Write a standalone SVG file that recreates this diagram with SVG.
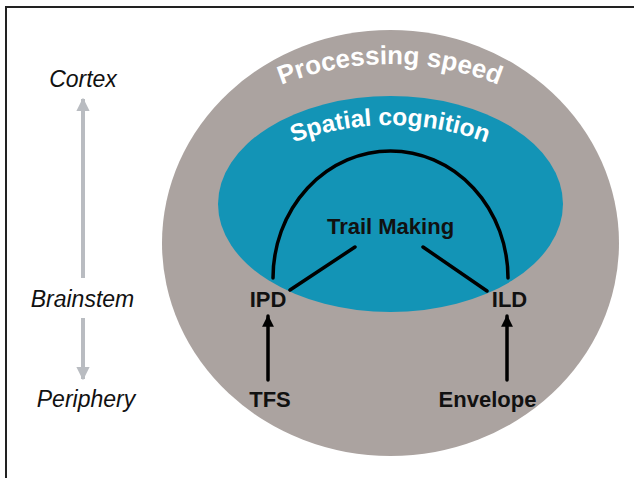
<svg xmlns="http://www.w3.org/2000/svg" width="634" height="478" viewBox="0 0 634 478">
<style>
.lbl{font-family:"Liberation Sans",Arial,sans-serif;font-weight:bold;font-size:22px;fill:#111;text-anchor:middle}
.axis{font-family:"Liberation Sans",Arial,sans-serif;font-style:italic;font-size:23px;fill:#111;text-anchor:middle}
.arc{font-family:"Liberation Sans",Arial,sans-serif;font-weight:bold;fill:#fff;text-anchor:middle}
.blk{stroke:#000;stroke-width:3.5;fill:none;stroke-linecap:round}
.gry{stroke:#b9bcc1;stroke-width:4;fill:none}
</style>
<defs>
<marker id="ah" viewBox="0 0 10 10" refX="9" refY="5" markerWidth="3.4" markerHeight="3.4" orient="auto" markerUnits="strokeWidth">
<path d="M0 0 L10 5 L0 10 Z" fill="#000"/>
</marker>
<marker id="ag" viewBox="0 0 10 10" refX="9" refY="5" markerWidth="3.3" markerHeight="3.3" orient="auto" markerUnits="strokeWidth">
<path d="M0 0 L10 5 L0 10 Z" fill="#b9bcc1"/>
</marker>
<path id="pPS" d="M 97 357 A 293 293 0 0 1 683 357"/>
<path id="pSC" d="M 117 398 A 273 273 0 0 1 663 398"/>
</defs>
<rect width="634" height="478" fill="#fff"/>
<rect x="6" y="7" width="700" height="520" fill="none" stroke="#222" stroke-width="2"/>
<g id="processing-speed">
<ellipse cx="390.5" cy="243" rx="228.5" ry="213" fill="#aba3a0"/>
<text class="arc" font-size="26"><textPath href="#pPS" startOffset="50%">Processing speed</textPath></text>
</g>
<g id="spatial-cognition">
<ellipse cx="390.5" cy="204" rx="172.5" ry="108" fill="#1394b6"/>
<text class="arc" font-size="24.5"><textPath href="#pSC" startOffset="50%">Spatial cognition</textPath></text>
</g>
<g id="trail-making"><text class="lbl" x="390.5" y="234" font-size="24">Trail Making</text></g>
<g id="ipd"><text class="lbl" x="268" y="307">IPD</text></g>
<g id="ild"><text class="lbl" x="509.5" y="307">ILD</text></g>
<g id="tfs"><text class="lbl" x="270" y="407">TFS</text></g>
<g id="envelope"><text class="lbl" x="487.5" y="407">Envelope</text></g>
<g id="cortex"><text class="axis" x="83" y="87">Cortex</text></g>
<g id="brainstem"><text class="axis" x="82.5" y="307" font-size="24">Brainstem</text></g>
<g id="periphery"><text class="axis" x="86" y="407">Periphery</text></g>
<g id="connectors">
<path class="blk" d="M 273 278 A 117.5 127 0 0 1 508 278"/>
<path class="blk" d="M 290 290 L 355 247"/>
<path class="blk" d="M 487 291 L 423 247"/>
<path class="blk" d="M 268 380 L 268 316" stroke-linecap="butt" marker-end="url(#ah)"/>
<path class="blk" d="M 507 380 L 507 316" stroke-linecap="butt" marker-end="url(#ah)"/>
<path class="gry" d="M 83 278 L 83 99" marker-end="url(#ag)"/>
<path class="gry" d="M 83 318 L 83 379" marker-end="url(#ag)"/>
</g>
</svg>
